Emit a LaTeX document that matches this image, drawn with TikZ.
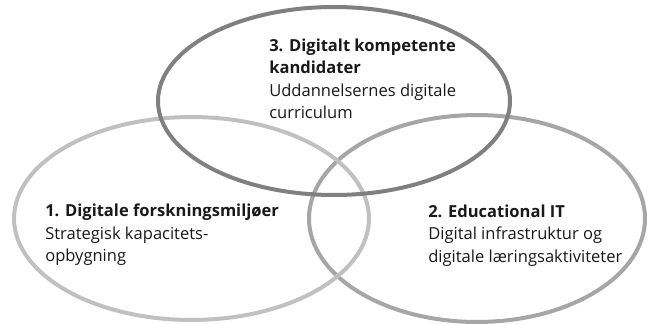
\documentclass[tikz,border=0pt]{standalone}
\usepackage{fontspec}
\setmainfont{Open Sans}
\tikzset{
  ring/.style={line width=3pt},
  venntext/.style={anchor=north west, inner sep=0pt, align=left, text=black!90, font=\fontsize{12.4}{16.6}\selectfont}
}
\begin{document}
\begin{tikzpicture}[x=0.75pt,y=0.75pt,yscale=-1,xscale=1]
\useasboundingbox (0,0) rectangle (648,324);

%Shape: Ellipse [id:right]
\draw [color={rgb, 255:red, 166; green, 166; blue, 166 }, ring] (477,218.5) ellipse (126pt and 77.6pt);
%Shape: Ellipse [id:left]
\draw [color={rgb, 255:red, 192; green, 192; blue, 192 }, ring] (191.5,218.5) ellipse (133.1pt and 76.1pt);
%Shape: Ellipse [id:top]
\draw [color={rgb, 255:red, 128; green, 128; blue, 128 }, ring] (334,101) ellipse (132pt and 70.5pt);

% Text Node
\node [venntext] (kandidater) at (269,39) {\textbf{3. Digitalt kompetente}\\\textbf{kandidater}\\Uddannelsernes digitale\\curriculum};
% Text Node
\node [venntext] (forskning) at (45,204) {\textbf{1. Digitale forskningsmiljøer}\\Strategisk kapacitets-\\opbygning};
% Text Node
\node [venntext] (educit) at (428,205) {\textbf{2. Educational IT}\\Digital infrastruktur og\\digitale læringsaktiviteter};

\end{tikzpicture}
\end{document}
